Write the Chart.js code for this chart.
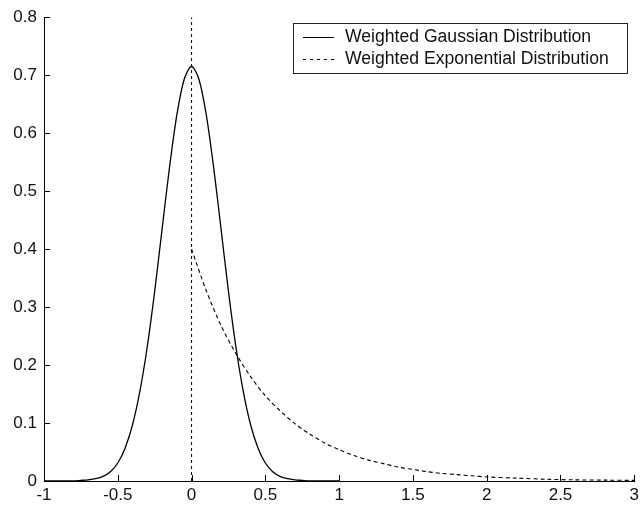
<!DOCTYPE html>
<html>
<head>
<meta charset="utf-8">
<script src="https://cdn.jsdelivr.net/npm/chart.js@4/dist/chart.umd.min.js"></script>
<style>
  body { margin: 0; background: #fff; }
  #wrap { width: 643px; height: 508px; }
</style>
</head>
<body>
<div id="wrap"><canvas id="chart" width="643" height="508"></canvas></div>
<script>
// values
const gaussX = [-1, -0.9, -0.8, -0.75, -0.7, -0.65, -0.6, -0.55, -0.5, -0.45, -0.4, -0.35, -0.3, -0.25, -0.2, -0.15, -0.1, -0.05,
                0, 0.05, 0.1, 0.15, 0.2, 0.25, 0.3, 0.35, 0.4, 0.45, 0.5, 0.55, 0.6, 0.65, 0.7, 0.75, 0.8, 0.9, 1];
const gaussY = [0, 0, 0, 0.001, 0.002, 0.004, 0.008, 0.016, 0.031, 0.057, 0.097, 0.155, 0.232, 0.327, 0.434, 0.540, 0.631, 0.693,
                0.715, 0.693, 0.631, 0.540, 0.434, 0.327, 0.232, 0.155, 0.097, 0.057, 0.031, 0.016, 0.008, 0.004, 0.002, 0.001, 0, 0, 0];
const expoX = [0, 0.1, 0.2, 0.3, 0.4, 0.5, 0.6, 0.7, 0.8, 0.9, 1, 1.1, 1.2, 1.3, 1.4, 1.5, 1.6, 1.7, 1.8, 1.9, 2, 2.2, 2.4, 2.6, 2.8, 3];
const expoY = [0.400, 0.328, 0.268, 0.220, 0.180, 0.147, 0.121, 0.099, 0.081, 0.066, 0.054, 0.044, 0.036, 0.030, 0.024, 0.020,
               0.016, 0.013, 0.011, 0.009, 0.007, 0.005, 0.003, 0.002, 0.0015, 0.001];
const meanX = [0, 0];
const meanY = [0, 0.8];
const seriesNames = ['Weighted Gaussian Distribution', 'Weighted Exponential Distribution'];

const font = '"Liberation Sans", Arial, sans-serif';

function pts(xs, ys) {
    return xs.map((x, i) => ({ x: x, y: ys[i] }));
}

// MATLAB style: ticks pointing inward, legend in a framed box
const matlabBits = {
    id: 'matlabBits',
    afterDraw(chart) {
        const c = chart.ctx;
        const a = chart.chartArea;
        const xs = chart.scales.x, ys = chart.scales.y;
        c.save();
        c.strokeStyle = '#000';
        c.lineWidth = 1;
        c.beginPath();
        xs.ticks.forEach(t => {
            const px = Math.round(xs.getPixelForValue(t.value)) + 0.5;
            c.moveTo(px, a.bottom);
            c.lineTo(px, a.bottom - 6);
        });
        ys.ticks.forEach(t => {
            const py = Math.round(ys.getPixelForValue(t.value)) + 0.5;
            c.moveTo(a.left, py);
            c.lineTo(a.left + 6, py);
        });
        c.stroke();

        // legend
        const bx = 293.5, by = 23.5, bw = 334, bh = 50;
        c.fillStyle = '#fff';
        c.fillRect(bx, by, bw, bh);
        c.strokeStyle = '#222';
        c.strokeRect(bx, by, bw, bh);
        const rows = [37, 59];
        c.strokeStyle = '#000';
        c.lineWidth = 1;
        rows.forEach((ry, i) => {
            c.setLineDash(i === 0 ? [] : [3, 4]);
            c.beginPath();
            c.moveTo(303, ry + 0.5);
            c.lineTo(334, ry + 0.5);
            c.stroke();
        });
        c.setLineDash([]);
        c.fillStyle = '#111';
        c.font = '17.6px ' + font;
        c.textBaseline = 'middle';
        c.textAlign = 'left';
        rows.forEach((ry, i) => c.fillText(seriesNames[i], 345, ry));
        c.restore();
    }
};

const tickFmt = v => String(Math.round(v * 100) / 100);

new Chart(document.getElementById('chart'), {
    type: 'scatter',
    data: {
        datasets: [{
            label: seriesNames[0],
            data: pts(gaussX, gaussY),
            showLine: true,
            borderColor: '#000',
            borderWidth: 1.3,
            pointRadius: 0,
            tension: 0.3
        }, {
            label: seriesNames[1],
            data: pts(expoX, expoY),
            showLine: true,
            borderColor: '#000',
            borderWidth: 1.1,
            borderDash: [4, 3],
            pointRadius: 0,
            tension: 0.3
        }, {
            label: 'mean',
            data: pts(meanX, meanY),
            showLine: true,
            borderColor: '#000',
            borderWidth: 1,
            borderDash: [3, 3],
            pointRadius: 0
        }]
    },
    options: {
        responsive: false,
        animation: false,
        devicePixelRatio: 1,
        layout: { padding: { top: 15, right: 7, left: 0, bottom: 0 } },
        plugins: { legend: { display: false }, tooltip: { enabled: false } },
        scales: {
            x: {
                type: 'linear',
                min: -1,
                max: 3,
                afterFit: s => { s.height = 27; },
                border: { color: '#000', width: 1 },
                grid: { drawOnChartArea: false, drawTicks: false },
                ticks: { stepSize: 0.5, padding: 4, color: '#111', callback: tickFmt,
                         maxRotation: 0, autoSkip: false, font: { family: font, size: 17 } }
            },
            y: {
                min: 0,
                max: 0.8,
                afterFit: s => { s.width = 44; },
                border: { color: '#000', width: 1 },
                grid: { drawOnChartArea: false, drawTicks: false },
                ticks: { stepSize: 0.1, padding: 7, color: '#111', callback: tickFmt,
                         font: { family: font, size: 17 } }
            }
        }
    },
    plugins: [matlabBits]
});
</script>
</body>
</html>
